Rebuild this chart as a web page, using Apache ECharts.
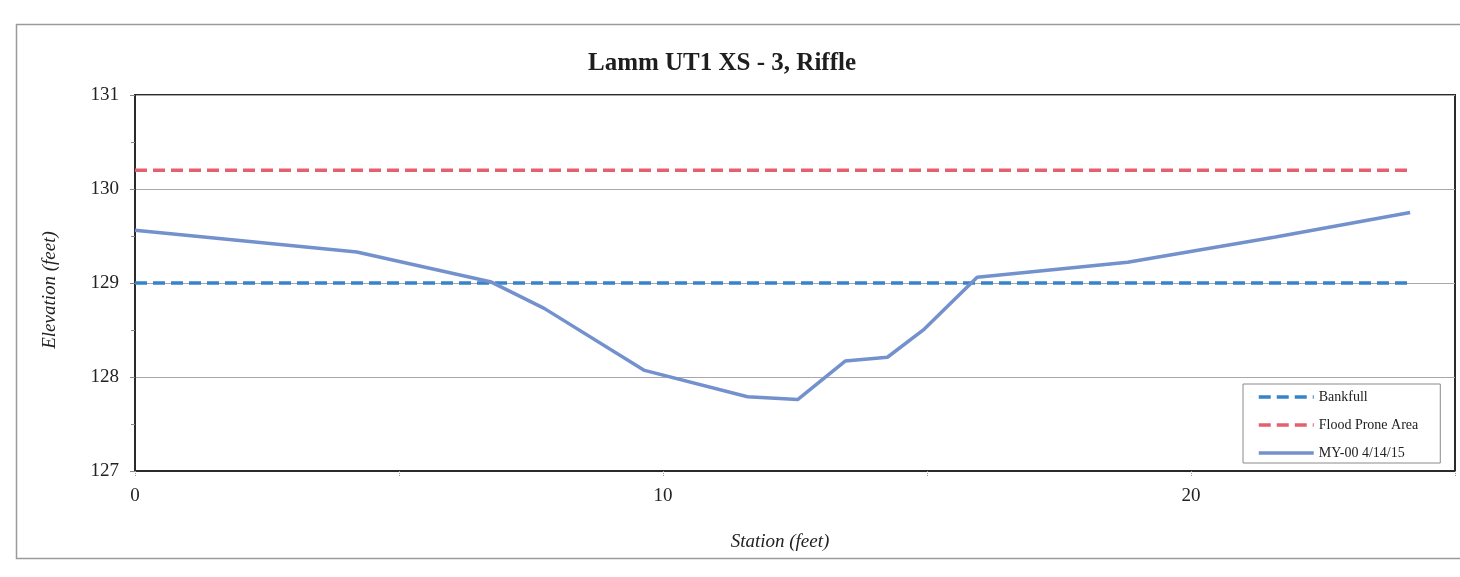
<!DOCTYPE html>
<html>
<head>
<meta charset="utf-8">
<script src="https://cdn.jsdelivr.net/npm/echarts@6/dist/echarts.min.js"></script>
<style>
html,body{margin:0;padding:0;background:#fff;}
#chart{width:1460px;height:577px;}
</style>
</head>
<body>
<div id="chart"></div>
<script>
// ---- data ----
const titleText = 'Lamm UT1 XS - 3, Riffle';
const xTitle = 'Station (feet)';
const yTitle = 'Elevation (feet)';
const seriesNames = ['Bankfull', 'Flood Prone Area', 'MY-00 4/14/15'];

const bankfullStation = [0, 24.15];
const bankfullElev = [129.0, 129.0];

const floodStation = [0, 24.15];
const floodElev = [130.2, 130.2];

const surveyStation = [0, 4.2, 6.75, 7.75, 9.65, 11.6, 12.55, 13.45, 14.25, 14.95, 15.95, 18.8, 21.6, 24.15];
const surveyElev = [129.56, 129.33, 129.01, 128.73, 128.07, 127.79, 127.76, 128.17, 128.21, 128.51, 129.06, 129.22, 129.49, 129.75];

const xMin = 0, xMax = 25, xInterval = 10;
const yMin = 127, yMax = 131, yInterval = 1;

function pairs(xs, ys) { return xs.map((x, i) => [x, ys[i]]); }

const serif = '"Liberation Serif", "DejaVu Serif", serif';
const chart = echarts.init(document.getElementById('chart'), null, {renderer: 'canvas'});

chart.setOption({
  backgroundColor: '#ffffff',
  animation: false,
  graphic: [
    {type: 'rect', left: 14, top: 22, shape: {width: 1460, height: 534},
     style: {fill: 'none', stroke: '#9a9a9a', lineWidth: 1.5}, z: -10, silent: true},
    {type: 'text', x: 722, y: 64,
     style: {text: titleText, font: 'bold 25px ' + serif, fill: '#1e1e1e', align: 'center', verticalAlign: 'middle'}},
    {type: 'text', x: 780, y: 542,
     style: {text: xTitle, font: 'italic 19px ' + serif, fill: '#222', align: 'center', verticalAlign: 'middle'}},
    {type: 'text', x: 50, y: 290, rotation: Math.PI / 2,
     style: {text: yTitle, font: 'italic 19px ' + serif, fill: '#222', align: 'center', verticalAlign: 'middle'}}
  ],
  grid: {left: 135, right: 5, top: 95, bottom: 106, show: true, borderColor: '#2a2a2a', borderWidth: 2, backgroundColor: 'transparent'},
  legend: {
    orient: 'vertical', left: 1243, top: 384,
    data: seriesNames,
    itemWidth: 55, itemHeight: 14, itemGap: 14,
    padding: [6, 22, 3, 14],
    backgroundColor: '#fff', borderColor: '#8a8a8a', borderWidth: 1,
    itemStyle: {opacity: 0},
    lineStyle: {width: 3.5},
    textStyle: {fontFamily: serif, fontSize: 14, color: '#222'}
  },
  xAxis: {
    type: 'value', min: xMin, max: xMax, interval: xInterval,
    axisLine: {show: true, lineStyle: {color: '#2a2a2a', width: 2}},
    axisTick: {show: true, length: 6, lineStyle: {color: '#999', type: 'dotted'}},
    minorTick: {show: true, splitNumber: 2, length: 6, lineStyle: {color: '#999', type: 'dotted'}},
    splitLine: {show: false},
    axisLabel: {fontFamily: serif, fontSize: 19, color: '#222', margin: 16,
      formatter: v => (v <= 20 ? String(v) : '')}
  },
  yAxis: {
    type: 'value', min: yMin, max: yMax, interval: yInterval,
    axisLine: {show: true, lineStyle: {color: '#2a2a2a', width: 2}},
    axisTick: {show: true, length: 5, lineStyle: {color: '#888'}},
    minorTick: {show: true, splitNumber: 2, length: 4, lineStyle: {color: '#888'}},
    splitLine: {show: true, lineStyle: {color: '#a8a8a8', width: 1}},
    axisLabel: {fontFamily: serif, fontSize: 19, color: '#222', margin: 16}
  },
  series: [
    {name: seriesNames[0], type: 'line', symbol: 'none', data: pairs(bankfullStation, bankfullElev),
     lineStyle: {color: '#3782c8', width: 3.5, type: [12, 6]}, itemStyle: {color: '#3782c8'}, z: 3},
    {name: seriesNames[1], type: 'line', symbol: 'none', data: pairs(floodStation, floodElev),
     lineStyle: {color: '#e65f6e', width: 3.5, type: [12, 6]}, itemStyle: {color: '#e65f6e'}, z: 3},
    {name: seriesNames[2], type: 'line', symbol: 'none', data: pairs(surveyStation, surveyElev),
     lineStyle: {color: '#7391cd', width: 3.5}, itemStyle: {color: '#7391cd'}, z: 4}
  ]
});
</script>
</body>
</html>
